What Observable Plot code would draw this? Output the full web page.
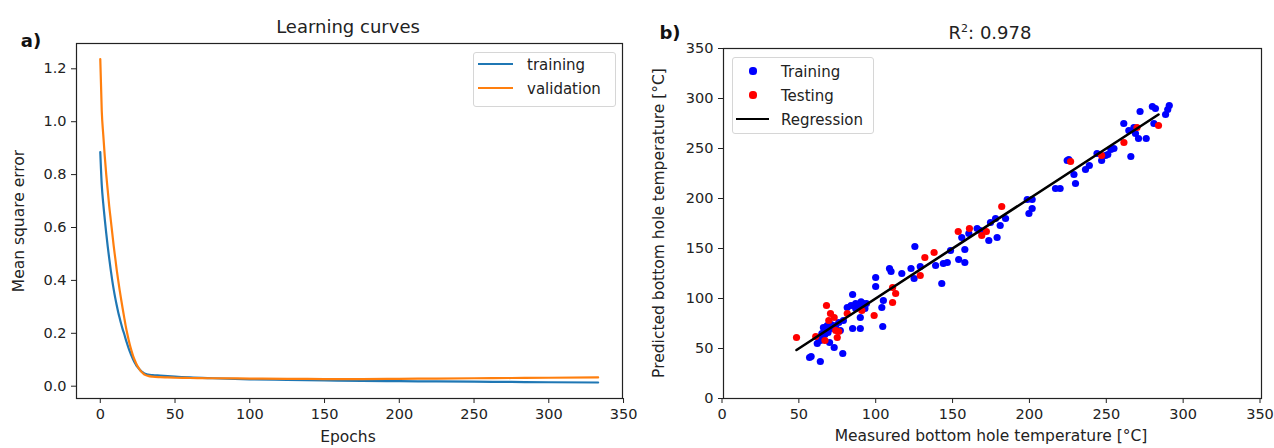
<!DOCTYPE html>
<html><head><meta charset="utf-8">
<script src="https://cdn.jsdelivr.net/npm/d3@7"></script>
<script src="https://cdn.jsdelivr.net/npm/@observablehq/plot@0.6"></script>
<style>
body{margin:0;background:#fff;}
#wrap{position:relative;width:1274px;height:448px;font-family:"DejaVu Sans",sans-serif;color:#222;overflow:hidden;background:#fff}
.abs{position:absolute;white-space:nowrap;line-height:1;}
.panel{position:absolute;top:0;}
.legend{position:absolute;border:1px solid #d6d6d6;border-radius:3px;background:rgba(255,255,255,0.85);}
</style></head><body><div id="wrap"></div>
<script>
// ---- Learning curves (panel a) ----
const epochs = [0,1,2,3,4,5,6,7,8,9,10,11,12,13,14,15,16,17,18,19,20,21,22,23,24,25,26,27,28,29,30,32,35,40,45,50,60,75,100,125,150,175,200,225,250,275,300,333];
const trainingLoss = [0.885,0.76,0.69,0.632,0.578,0.528,0.482,0.44,0.40,0.365,0.334,0.306,0.28,0.257,0.235,0.215,0.198,0.178,0.16,0.143,0.128,0.114,0.101,0.09,0.08,0.072,0.065,0.059,0.054,0.05,0.047,0.044,0.042,0.040,0.038,0.036,0.033,0.030,0.026,0.024,0.022,0.020,0.019,0.018,0.017,0.016,0.015,0.014];
const validationLoss = [1.237,1.04,0.95,0.87,0.80,0.74,0.68,0.63,0.58,0.53,0.485,0.44,0.40,0.362,0.327,0.293,0.26,0.228,0.20,0.175,0.152,0.132,0.114,0.099,0.086,0.075,0.066,0.058,0.052,0.047,0.043,0.039,0.036,0.034,0.033,0.032,0.031,0.030,0.029,0.028,0.027,0.027,0.028,0.029,0.030,0.031,0.032,0.033];
const epochTicks = [0,50,100,150,200,250,300,350];
const lossTicks = [0,0.2,0.4,0.6,0.8,1.0,1.2];

// ---- Measured vs predicted (panel b) ----
const trainingMeasured = [57,56,63,61,63,64,65,67.5,66,69.6,69,72,77.6,73,75,76,78,80.5,84,84,86,88,89,89,91,92,103.6,99,99,104,103,108,109,116,122,124,128,62,64,66,68,70,72,83,86,90,93,89.5,124.5,138,142,143,145.6,147.7,153,157,157,155,159.6,165,167,172.6,178,173.7,177,180,183.5,198.7,200.8,197.6,200.8,216,219,229,228,224.6,223.6,235.5,238,243,246,248.5,254,260.4,263.7,267,265,268,270,275,271,279,281,280,290,289,287.6,252,250];
const trainingPredicted = [42,41,37,55,58,65,71,73,68,70,56,51,45,73,76,68,78,91,104,70,95,93,81,70,95,90,72,121,112,98,91,130,127,125,130,120,132,60,62,64,66,74,70,93,90,92,95,96.7,152,133,115,135,136,148,139,136,149,161,165,170,168,158,161,176,180,173,180,185,190,199,199,210,210,215,224,239,238,229,233,245,238,243,250,275,268,271,242,265,260,260,287,292,290,275,293,289,284,249,244];
const testingMeasured = [47.5,60,67,66,69.6,72,68.5,73,74,75,80.5,90,98,110,112,110,128,131,137,152.7,160,168,171,181,225.8,246,260.5,269,283];
const testingPredicted = [61,62,93,58,85,81,78,68,61,67,85,88,83,96,105,111,123,141,146,167,170,163,167,192,237,243,256,271,273];
const regressionSlope = 1.0;
const regressionIntercept = 1.0;
const tempTicks = [0,50,100,150,200,250,300,350];

const FONT = "DejaVu Sans";
const wrap = document.getElementById("wrap");

function addText(html, x, y, opts = {}) {
  const d = document.createElement("div");
  d.className = "abs";
  d.innerHTML = html;
  d.style.left = x + "px";
  d.style.top = y + "px";
  d.style.fontSize = (opts.size || 15) + "px";
  if (opts.bold) d.style.fontWeight = "bold";
  if (opts.color) d.style.color = opts.color;
  d.style.transform = "translate(-50%,-50%)" + (opts.rotate ? " rotate(" + opts.rotate + "deg)" : "");
  wrap.appendChild(d);
  return d;
}

// Panel a
const curveTrain = epochs.map((e, i) => ({epoch: e, loss: trainingLoss[i]}));
const curveVal = epochs.map((e, i) => ({epoch: e, loss: validationLoss[i]}));

const plotA = Plot.plot({
  width: 640, height: 448,
  marginLeft: 76, marginRight: 18, marginTop: 43, marginBottom: 50,
  x: {domain: [-15.9, 349.3]},
  y: {domain: [-0.0465, 1.2957]},
  style: {fontFamily: FONT, fontSize: "14.5px", color: "#222", background: "transparent", overflow: "visible"},
  marks: [
    Plot.line(curveTrain, {x: "epoch", y: "loss", stroke: "#1f77b4", strokeWidth: 2.2, curve: "monotone-x"}),
    Plot.line(curveVal, {x: "epoch", y: "loss", stroke: "#ff7f0e", strokeWidth: 2.2, curve: "monotone-x"}),
    Plot.frame({stroke: "#222", strokeWidth: 1.2}),
    Plot.axisX({ticks: epochTicks, tickSize: 5, tickPadding: 5, label: null, tickFormat: d3.format("d")}),
    Plot.axisY({ticks: lossTicks, tickSize: 5, tickPadding: 5, label: null, tickFormat: d3.format(".1f")})
  ]
});
plotA.classList.add("panel");
plotA.style.left = "0px";
wrap.appendChild(plotA);

// Panel b
const trainPts = trainingMeasured.map((m, i) => ({measured: m, predicted: trainingPredicted[i]}));
const testPts = testingMeasured.map((m, i) => ({measured: m, predicted: testingPredicted[i]}));
const regX = d3.extent(testingMeasured);
const regLine = regX.map(x => ({measured: x, predicted: regressionSlope * x + regressionIntercept}));

const plotB = Plot.plot({
  width: 634, height: 448,
  marginLeft: 83, marginRight: 13, marginTop: 48, marginBottom: 50,
  x: {domain: [0, 350]},
  y: {domain: [0, 350]},
  style: {fontFamily: FONT, fontSize: "14.5px", color: "#222", background: "transparent", overflow: "visible"},
  marks: [
    Plot.dot(trainPts, {x: "measured", y: "predicted", r: 3.6, fill: "#0000ff", stroke: "none"}),
    Plot.dot(testPts, {x: "measured", y: "predicted", r: 3.6, fill: "#ff0000", stroke: "none"}),
    Plot.line(regLine, {x: "measured", y: "predicted", stroke: "#000", strokeWidth: 2.6}),
    Plot.frame({stroke: "#222", strokeWidth: 1.2}),
    Plot.axisX({ticks: tempTicks, tickSize: 5, tickPadding: 5, label: null, tickFormat: d3.format("d"), dx: -1.5}),
    Plot.axisY({ticks: tempTicks, tickSize: 5, tickPadding: 5, label: null, tickFormat: d3.format("d")})
  ]
});
plotB.classList.add("panel");
plotB.style.left = "640px";
wrap.appendChild(plotB);

// Titles and labels
addText("a)", 31, 41, {size: 18, bold: true, color: "#111"});
addText("b)", 670, 33, {size: 18, bold: true, color: "#111"});
addText("Learning curves", 348, 27, {size: 18});
addText("R<sup style=\"font-size:11px;vertical-align:7px\">2</sup>: 0.978", 990, 32, {size: 18});
addText("Epochs", 348, 438, {size: 15.5});
addText("Mean square error", 20, 221, {size: 15.5, rotate: -90});
addText("Measured bottom hole temperature [°C]", 991, 437, {size: 15.5});
addText("Predicted bottom hole temperature [°C]", 660, 223, {size: 15.5, rotate: -90});

// Legends
function legendBox(x, y, w, h) {
  const b = document.createElement("div");
  b.className = "legend";
  b.style.left = x + "px"; b.style.top = y + "px";
  b.style.width = w + "px"; b.style.height = h + "px";
  wrap.appendChild(b);
}
function swatchLine(x1, x2, y, color, w) {
  const s = document.createElement("div");
  s.className = "abs";
  s.style.left = x1 + "px"; s.style.top = (y - w / 2) + "px";
  s.style.width = (x2 - x1) + "px"; s.style.height = w + "px";
  s.style.background = color;
  wrap.appendChild(s);
}
function swatchDot(x, y, r, color) {
  const s = document.createElement("div");
  s.className = "abs";
  s.style.left = (x - r) + "px"; s.style.top = (y - r) + "px";
  s.style.width = 2 * r + "px"; s.style.height = 2 * r + "px";
  s.style.borderRadius = "50%";
  s.style.background = color;
  wrap.appendChild(s);
}
function legendLabel(text, x, y) {
  const d = document.createElement("div");
  d.className = "abs";
  d.textContent = text;
  d.style.left = x + "px"; d.style.top = y + "px";
  d.style.fontSize = "15px";
  d.style.transform = "translateY(-50%)";
  wrap.appendChild(d);
}
legendBox(473, 52, 141, 53);
swatchLine(478, 513, 64, "#1f77b4", 2.4);
swatchLine(478, 513, 88, "#ff7f0e", 2.4);
legendLabel("training", 527, 65);
legendLabel("validation", 527, 89);

legendBox(732, 57, 140, 75);
swatchDot(753, 71, 3.6, "#0000ff");
swatchDot(753, 95, 3.6, "#ff0000");
swatchLine(736, 769, 119, "#000", 2.6);
legendLabel("Training", 781, 72);
legendLabel("Testing", 781, 96);
legendLabel("Regression", 781, 120);
</script>
</body></html>
